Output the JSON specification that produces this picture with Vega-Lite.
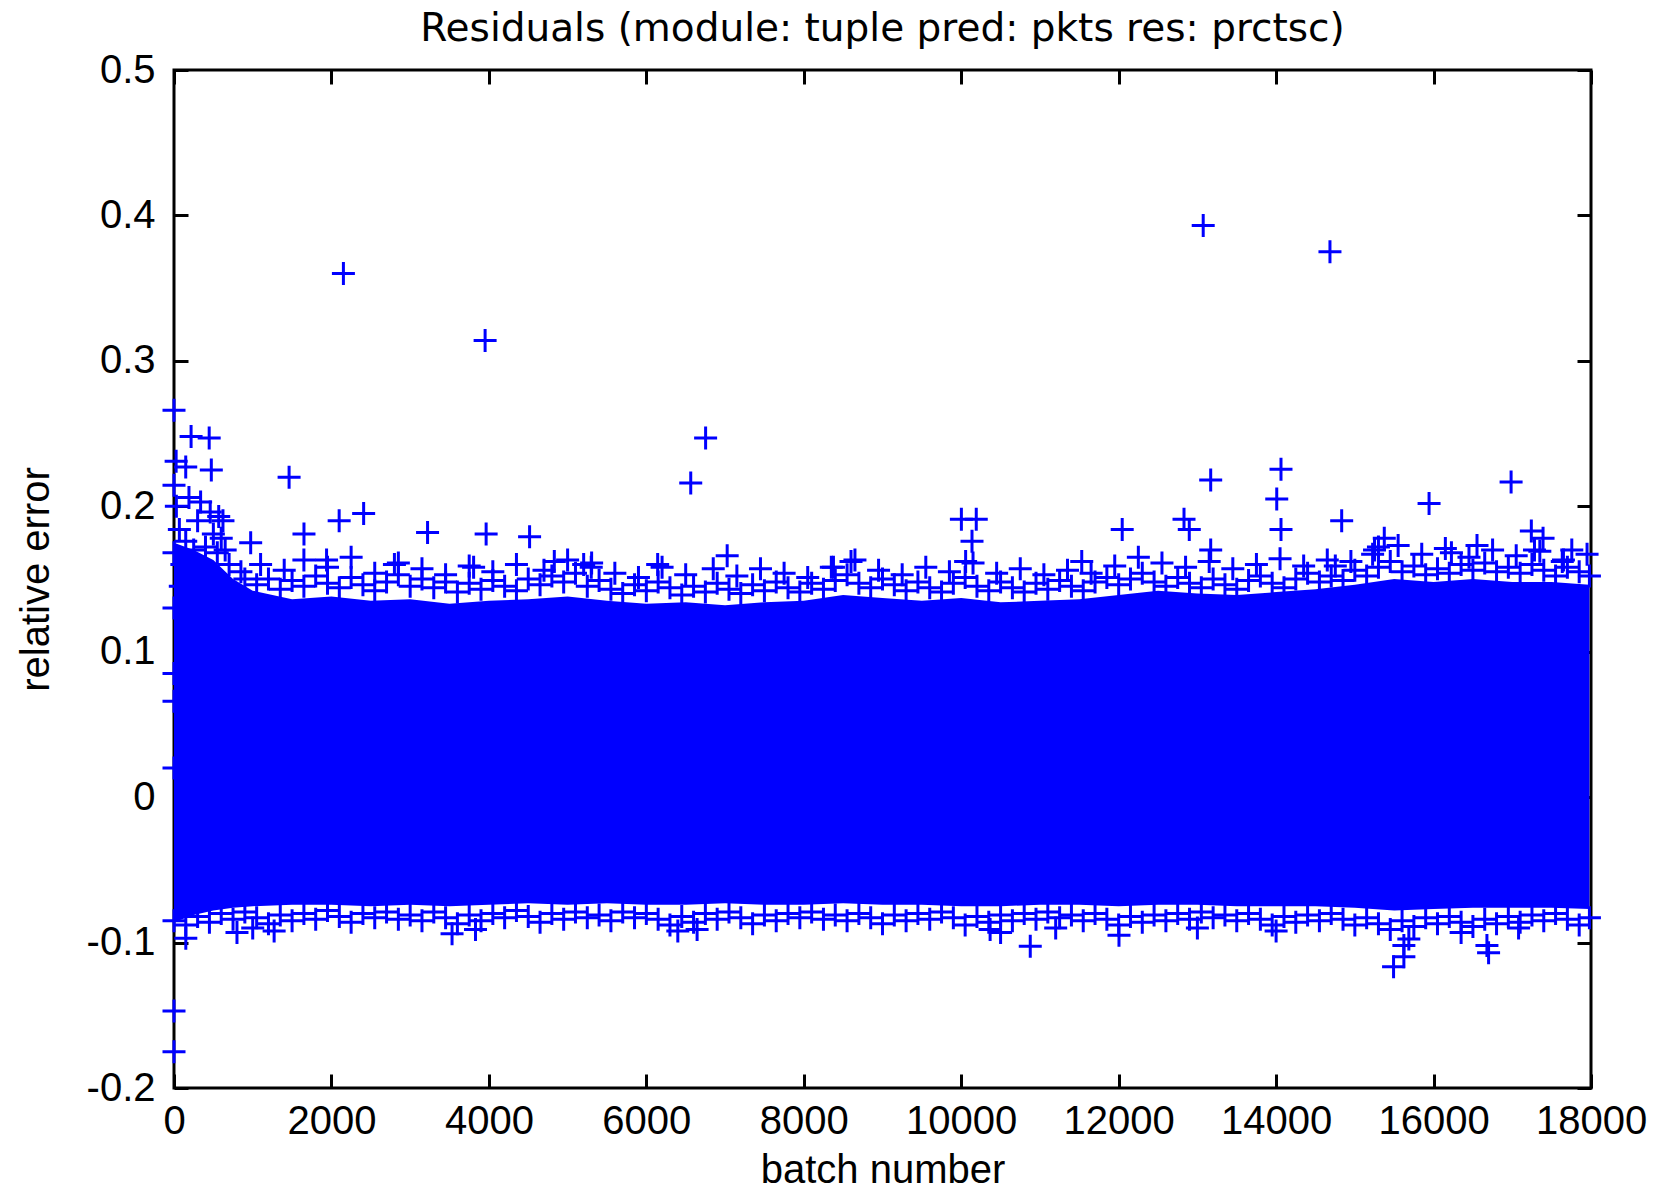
{
  "$schema": "https://vega.github.io/schema/vega-lite/v6.json",
  "width": 1417,
  "height": 1018,
  "autosize": {"type": "none"},
  "padding": {"left": 174, "top": 70, "right": 79, "bottom": 101},
  "background": "white",
  "title": {"text": "Residuals (module: tuple pred: pkts res: prctsc)", "anchor": "middle", "frame": "group", "offset": 1},
  "config": {
    "font": "Liberation Sans",
    "view": {"stroke": "black", "strokeWidth": 3},
    "title": {"font": "DejaVu Sans", "fontSize": 39, "fontWeight": "normal", "color": "black"},
    "axis": {"grid": false, "domain": false, "tickColor": "black", "tickWidth": 3, "tickSize": -14, "labelFont": "Liberation Sans", "labelFontSize": 40, "labelColor": "black", "titleFont": "Liberation Sans", "titleFontSize": 40, "titleFontWeight": "normal", "titleColor": "black", "labelOverlap": false, "labelFlush": false}
  },
  "resolve": {"axis": {"x": "independent", "y": "independent"}},
  "layer": [
    {
      "data": {"values": [
        {"b":0,"lo":-0.086,"hi":0.175},{"b":250,"lo":-0.081,"hi":0.17},{"b":500,"lo":-0.078,"hi":0.163},{"b":750,"lo":-0.076,"hi":0.15},{"b":1000,"lo":-0.075,"hi":0.142},{"b":1500,"lo":-0.074,"hi":0.136},{"b":2000,"lo":-0.074,"hi":0.138},{"b":2500,"lo":-0.075,"hi":0.135},{"b":3000,"lo":-0.074,"hi":0.136},{"b":3500,"lo":-0.075,"hi":0.133},{"b":4000,"lo":-0.074,"hi":0.135},{"b":4500,"lo":-0.073,"hi":0.136},{"b":5000,"lo":-0.074,"hi":0.138},{"b":5500,"lo":-0.073,"hi":0.135},{"b":6000,"lo":-0.074,"hi":0.133},{"b":6500,"lo":-0.074,"hi":0.134},{"b":7000,"lo":-0.073,"hi":0.132},{"b":7500,"lo":-0.074,"hi":0.134},{"b":8000,"lo":-0.074,"hi":0.135},{"b":8500,"lo":-0.073,"hi":0.139},{"b":9000,"lo":-0.074,"hi":0.137},{"b":9500,"lo":-0.074,"hi":0.135},{"b":10000,"lo":-0.075,"hi":0.137},{"b":10500,"lo":-0.075,"hi":0.134},{"b":11000,"lo":-0.074,"hi":0.135},{"b":11500,"lo":-0.074,"hi":0.136},{"b":12000,"lo":-0.075,"hi":0.139},{"b":12500,"lo":-0.074,"hi":0.142},{"b":13000,"lo":-0.074,"hi":0.14},{"b":13500,"lo":-0.075,"hi":0.139},{"b":14000,"lo":-0.075,"hi":0.141},{"b":14500,"lo":-0.075,"hi":0.143},{"b":15000,"lo":-0.076,"hi":0.146},{"b":15500,"lo":-0.078,"hi":0.15},{"b":16000,"lo":-0.077,"hi":0.148},{"b":16500,"lo":-0.076,"hi":0.15},{"b":17000,"lo":-0.076,"hi":0.148},{"b":17500,"lo":-0.076,"hi":0.148},{"b":17980,"lo":-0.077,"hi":0.146}
      ]},
      "mark": {"type": "area", "color": "#0000ff", "opacity": 1},
      "encoding": {
        "x": {"field": "b", "type": "quantitative", "scale": {"domain": [0, 18000], "nice": false, "zero": false},
              "axis": {"orient": "bottom", "title": "batch number", "values": [0,2000,4000,6000,8000,10000,12000,14000,16000,18000], "format": "d", "labelBaseline": "alphabetic", "labelPadding": 59, "titleBaseline": "alphabetic", "titleY": 94}},
        "y": {"field": "lo", "type": "quantitative", "scale": {"domain": [-0.2, 0.5], "nice": false, "zero": false},
              "axis": {"orient": "left", "title": "relative error", "values": [-0.2,-0.1,0,0.1,0.2,0.3,0.4,0.5], "labelExpr": "datum.value == 0 ? '0' : replace(format(datum.value, '.1f'), '\u2212', '-')", "labelPadding": 33, "titleBaseline": "alphabetic", "titleX": -126, "titleAngle": 270}},
        "y2": {"field": "hi"}
      }
    },
    {
      "data": {"values": [
        {"b":0,"e":0.266},{"b":217,"e":0.248},{"b":447,"e":0.247},{"b":474,"e":0.225},{"b":27,"e":0.231},{"b":149,"e":0.227},{"b":0,"e":0.2145},{"b":190,"e":0.206},{"b":338,"e":0.203},{"b":460,"e":0.196},{"b":568,"e":0.193},{"b":500,"e":0.181},{"b":622,"e":0.19},{"b":974,"e":0.175},{"b":68,"e":0.184},{"b":149,"e":0.176},{"b":250,"e":0.17},{"b":400,"e":0.172},{"b":550,"e":0.168},{"b":700,"e":0.16},{"b":850,"e":0.155},{"b":100,"e":0.16},{"b":300,"e":0.19},{"b":600,"e":0.178},{"b":650,"e":0.17},{"b":30,"e":0.2},{"b":80,"e":0.145},{"b":0,"e":0.13},{"b":0,"e":0.168},{"b":0,"e":0.085},{"b":0,"e":0.066},{"b":0,"e":-0.147},{"b":0,"e":-0.175},{"b":0,"e":0.02},
        {"b":2152,"e":0.36},{"b":3952,"e":0.314},{"b":13074,"e":0.393},{"b":14684,"e":0.375},{"b":6753,"e":0.247},{"b":6564,"e":0.216},{"b":13169,"e":0.218},{"b":14062,"e":0.2255},{"b":14008,"e":0.205},{"b":14062,"e":0.184},{"b":14833,"e":0.19},{"b":16985,"e":0.2167},{"b":15943,"e":0.202},{"b":12045,"e":0.184},{"b":12830,"e":0.191},{"b":12897,"e":0.184},{"b":13169,"e":0.17},{"b":10002,"e":0.191},{"b":10191,"e":0.191},{"b":10137,"e":0.176},{"b":10056,"e":0.162},{"b":1462,"e":0.22},{"b":1651,"e":0.181},{"b":2098,"e":0.19},{"b":2409,"e":0.195},{"b":3965,"e":0.181},{"b":3221,"e":0.182},{"b":4517,"e":0.179},{"b":7027,"e":0.166},{"b":17242,"e":0.183},
        {"b":4831,"e":0.162},{"b":5305,"e":0.161},{"b":6144,"e":0.16},{"b":8377,"e":0.158},{"b":11531,"e":0.162},{"b":14752,"e":0.159},{"b":17282,"e":0.17},{"b":17756,"e":0.17},{"b":17635,"e":0.162},{"b":16227,"e":0.168},{"b":16552,"e":0.173},{"b":17391,"e":0.178},{"b":15226,"e":0.167},{"b":15374,"e":0.178},{"b":15300,"e":0.172},{"b":8600,"e":0.162},{"b":2800,"e":0.16},{"b":1938,"e":0.163},{"b":3806,"e":0.158},{"b":5204,"e":0.16},
        {"b":900,"e":0.15},{"b":1050,"e":0.146},{"b":1200,"e":0.15},{"b":1350,"e":0.143},{"b":1500,"e":0.149},{"b":1650,"e":0.145},{"b":1800,"e":0.152},{"b":1950,"e":0.147},{"b":2100,"e":0.144},{"b":2250,"e":0.151},{"b":2400,"e":0.146},{"b":2550,"e":0.142},{"b":2700,"e":0.148},{"b":2850,"e":0.153},{"b":3000,"e":0.145},{"b":3150,"e":0.15},{"b":3300,"e":0.144},{"b":3450,"e":0.148},{"b":3600,"e":0.141},{"b":3750,"e":0.147},{"b":3900,"e":0.143},{"b":4050,"e":0.149},{"b":4200,"e":0.145},{"b":4350,"e":0.142},{"b":4500,"e":0.15},{"b":4650,"e":0.146},{"b":4800,"e":0.152},{"b":4950,"e":0.148},{"b":5100,"e":0.154},{"b":5250,"e":0.145},{"b":5400,"e":0.149},{"b":5550,"e":0.143},{"b":5700,"e":0.14},{"b":5850,"e":0.146},{"b":6000,"e":0.142},{"b":6150,"e":0.148},{"b":6300,"e":0.144},{"b":6450,"e":0.139},{"b":6600,"e":0.145},{"b":6750,"e":0.141},{"b":6900,"e":0.147},{"b":7050,"e":0.143},{"b":7200,"e":0.14},{"b":7350,"e":0.146},{"b":7500,"e":0.142},{"b":7650,"e":0.148},{"b":7800,"e":0.144},{"b":7950,"e":0.141},{"b":8100,"e":0.147},{"b":8250,"e":0.143},{"b":8400,"e":0.149},{"b":8550,"e":0.153},{"b":8700,"e":0.147},{"b":8850,"e":0.144},{"b":9000,"e":0.15},{"b":9150,"e":0.146},{"b":9300,"e":0.142},{"b":9450,"e":0.148},{"b":9600,"e":0.144},{"b":9750,"e":0.141},{"b":9900,"e":0.147},{"b":10050,"e":0.151},{"b":10200,"e":0.145},{"b":10350,"e":0.142},{"b":10500,"e":0.148},{"b":10650,"e":0.144},{"b":10800,"e":0.141},{"b":10950,"e":0.147},{"b":11100,"e":0.143},{"b":11250,"e":0.149},{"b":11400,"e":0.145},{"b":11550,"e":0.142},{"b":11700,"e":0.148},{"b":11850,"e":0.151},{"b":12000,"e":0.146},{"b":12150,"e":0.15},{"b":12300,"e":0.154},{"b":12450,"e":0.148},{"b":12600,"e":0.145},{"b":12750,"e":0.151},{"b":12900,"e":0.147},{"b":13050,"e":0.144},{"b":13200,"e":0.15},{"b":13350,"e":0.146},{"b":13500,"e":0.143},{"b":13650,"e":0.149},{"b":13800,"e":0.152},{"b":13950,"e":0.147},{"b":14100,"e":0.144},{"b":14250,"e":0.15},{"b":14400,"e":0.154},{"b":14550,"e":0.148},{"b":14700,"e":0.152},{"b":14850,"e":0.149},{"b":15000,"e":0.156},{"b":15150,"e":0.152},{"b":15300,"e":0.158},{"b":15450,"e":0.162},{"b":15600,"e":0.155},{"b":15750,"e":0.159},{"b":15900,"e":0.153},{"b":16050,"e":0.157},{"b":16200,"e":0.154},{"b":16350,"e":0.16},{"b":16500,"e":0.156},{"b":16650,"e":0.161},{"b":16800,"e":0.155},{"b":16950,"e":0.158},{"b":17100,"e":0.154},{"b":17250,"e":0.16},{"b":17400,"e":0.156},{"b":17550,"e":0.152},{"b":17700,"e":0.158},{"b":17850,"e":0.155},{"b":17980,"e":0.152},
        {"b":1100,"e":0.16},{"b":1400,"e":0.156},{"b":1650,"e":0.163},{"b":1950,"e":0.158},{"b":2250,"e":0.165},{"b":2550,"e":0.154},{"b":2850,"e":0.161},{"b":3150,"e":0.157},{"b":3450,"e":0.153},{"b":3750,"e":0.159},{"b":4050,"e":0.155},{"b":4350,"e":0.16},{"b":4700,"e":0.156},{"b":5000,"e":0.163},{"b":5300,"e":0.158},{"b":5600,"e":0.154},{"b":5900,"e":0.151},{"b":6200,"e":0.158},{"b":6500,"e":0.153},{"b":6850,"e":0.157},{"b":7150,"e":0.152},{"b":7450,"e":0.157},{"b":7750,"e":0.154},{"b":8050,"e":0.151},{"b":8350,"e":0.158},{"b":8650,"e":0.163},{"b":8950,"e":0.156},{"b":9250,"e":0.153},{"b":9550,"e":0.158},{"b":9850,"e":0.155},{"b":10150,"e":0.161},{"b":10450,"e":0.154},{"b":10750,"e":0.157},{"b":11050,"e":0.153},{"b":11350,"e":0.156},{"b":11650,"e":0.154},{"b":11950,"e":0.159},{"b":12250,"e":0.165},{"b":12550,"e":0.161},{"b":12850,"e":0.158},{"b":13150,"e":0.162},{"b":13450,"e":0.157},{"b":13750,"e":0.16},{"b":14050,"e":0.164},{"b":14350,"e":0.159},{"b":14650,"e":0.163},{"b":14950,"e":0.162},{"b":15250,"e":0.17},{"b":15550,"e":0.173},{"b":15850,"e":0.167},{"b":16150,"e":0.171},{"b":16450,"e":0.165},{"b":16750,"e":0.17},{"b":17050,"e":0.166},{"b":17350,"e":0.169},{"b":17650,"e":0.163},{"b":17950,"e":0.167},
        {"b":0,"e":-0.085},{"b":150,"e":-0.088},{"b":300,"e":-0.082},{"b":450,"e":-0.086},{"b":600,"e":-0.08},{"b":750,"e":-0.084},{"b":900,"e":-0.079},{"b":1050,"e":-0.083},{"b":1200,"e":-0.087},{"b":1350,"e":-0.081},{"b":1500,"e":-0.085},{"b":1650,"e":-0.08},{"b":1800,"e":-0.084},{"b":1950,"e":-0.078},{"b":2100,"e":-0.082},{"b":2250,"e":-0.086},{"b":2400,"e":-0.08},{"b":2550,"e":-0.083},{"b":2700,"e":-0.079},{"b":2850,"e":-0.084},{"b":3000,"e":-0.081},{"b":3150,"e":-0.085},{"b":3300,"e":-0.079},{"b":3450,"e":-0.083},{"b":3600,"e":-0.087},{"b":3750,"e":-0.081},{"b":3900,"e":-0.085},{"b":4050,"e":-0.08},{"b":4200,"e":-0.083},{"b":4350,"e":-0.078},{"b":4500,"e":-0.082},{"b":4650,"e":-0.086},{"b":4800,"e":-0.08},{"b":4950,"e":-0.084},{"b":5100,"e":-0.079},{"b":5250,"e":-0.083},{"b":5400,"e":-0.081},{"b":5550,"e":-0.085},{"b":5700,"e":-0.079},{"b":5850,"e":-0.083},{"b":6000,"e":-0.08},{"b":6150,"e":-0.084},{"b":6300,"e":-0.088},{"b":6450,"e":-0.082},{"b":6600,"e":-0.086},{"b":6750,"e":-0.08},{"b":6900,"e":-0.084},{"b":7050,"e":-0.079},{"b":7200,"e":-0.083},{"b":7350,"e":-0.087},{"b":7500,"e":-0.081},{"b":7650,"e":-0.085},{"b":7800,"e":-0.08},{"b":7950,"e":-0.083},{"b":8100,"e":-0.079},{"b":8250,"e":-0.084},{"b":8400,"e":-0.081},{"b":8550,"e":-0.085},{"b":8700,"e":-0.08},{"b":8850,"e":-0.083},{"b":9000,"e":-0.087},{"b":9150,"e":-0.081},{"b":9300,"e":-0.085},{"b":9450,"e":-0.08},{"b":9600,"e":-0.084},{"b":9750,"e":-0.079},{"b":9900,"e":-0.083},{"b":10050,"e":-0.088},{"b":10200,"e":-0.082},{"b":10350,"e":-0.086},{"b":10500,"e":-0.081},{"b":10650,"e":-0.085},{"b":10800,"e":-0.08},{"b":10950,"e":-0.084},{"b":11100,"e":-0.079},{"b":11250,"e":-0.083},{"b":11400,"e":-0.081},{"b":11550,"e":-0.085},{"b":11700,"e":-0.08},{"b":11850,"e":-0.084},{"b":12000,"e":-0.088},{"b":12150,"e":-0.082},{"b":12300,"e":-0.086},{"b":12450,"e":-0.081},{"b":12600,"e":-0.085},{"b":12750,"e":-0.08},{"b":12900,"e":-0.084},{"b":13050,"e":-0.079},{"b":13200,"e":-0.083},{"b":13350,"e":-0.081},{"b":13500,"e":-0.085},{"b":13650,"e":-0.08},{"b":13800,"e":-0.084},{"b":13950,"e":-0.088},{"b":14100,"e":-0.082},{"b":14250,"e":-0.086},{"b":14400,"e":-0.081},{"b":14550,"e":-0.085},{"b":14700,"e":-0.08},{"b":14850,"e":-0.084},{"b":15000,"e":-0.088},{"b":15150,"e":-0.083},{"b":15300,"e":-0.087},{"b":15450,"e":-0.091},{"b":15600,"e":-0.085},{"b":15750,"e":-0.089},{"b":15900,"e":-0.083},{"b":16050,"e":-0.087},{"b":16200,"e":-0.082},{"b":16350,"e":-0.086},{"b":16500,"e":-0.089},{"b":16650,"e":-0.084},{"b":16800,"e":-0.087},{"b":16950,"e":-0.082},{"b":17100,"e":-0.086},{"b":17250,"e":-0.081},{"b":17400,"e":-0.085},{"b":17550,"e":-0.08},{"b":17700,"e":-0.084},{"b":17850,"e":-0.088},{"b":17980,"e":-0.083},
        {"b":1272,"e":-0.092},{"b":3532,"e":-0.094},{"b":3830,"e":-0.091},{"b":6400,"e":-0.092},{"b":6645,"e":-0.091},{"b":10367,"e":-0.091},{"b":10500,"e":-0.093},{"b":10877,"e":-0.1026},{"b":12004,"e":-0.095},{"b":11200,"e":-0.09},{"b":15492,"e":-0.1166},{"b":15623,"e":-0.1097},{"b":15623,"e":-0.102},{"b":15686,"e":-0.0975},{"b":16678,"e":-0.102},{"b":16699,"e":-0.107},{"b":16350,"e":-0.093},{"b":17080,"e":-0.09},{"b":14000,"e":-0.092},{"b":13000,"e":-0.09},{"b":1000,"e":-0.09},{"b":800,"e":-0.093},{"b":150,"e":-0.097}
      ]},
      "mark": {"type": "point", "shape": "M-1,0H1M0,-1V1", "filled": false, "color": "#0000ff", "strokeWidth": 3, "size": 529, "opacity": 1},
      "encoding": {
        "x": {"field": "b", "type": "quantitative", "axis": {"orient": "top", "labels": false, "title": null, "values": [0,2000,4000,6000,8000,10000,12000,14000,16000,18000]}},
        "y": {"field": "e", "type": "quantitative", "axis": {"orient": "right", "labels": false, "title": null, "values": [-0.2,-0.1,0,0.1,0.2,0.3,0.4,0.5]}}
      }
    }
  ]
}
